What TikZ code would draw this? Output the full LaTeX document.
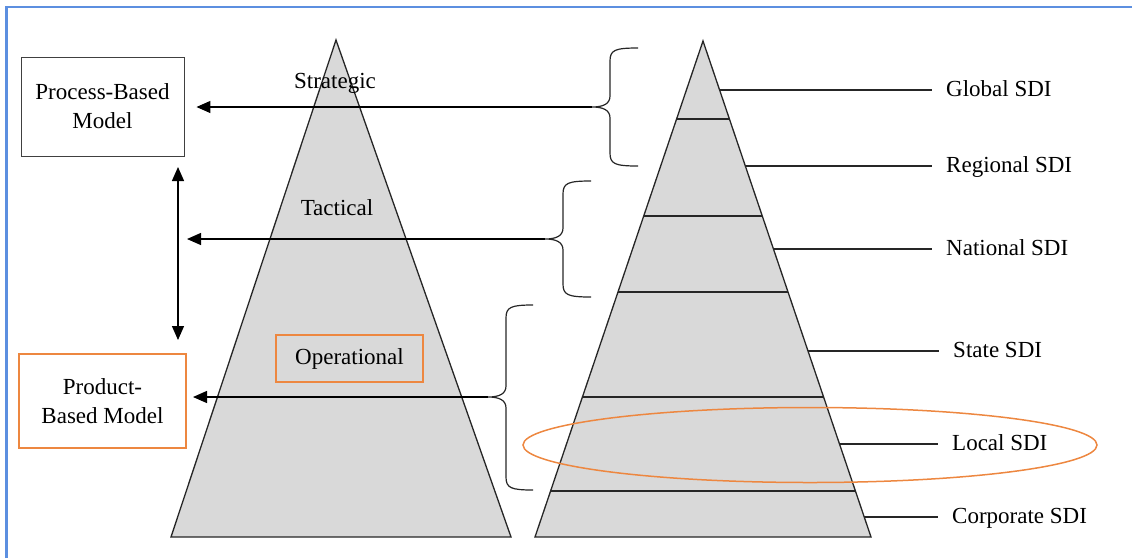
\documentclass[tikz,border=0pt]{standalone}
\usepackage{fontspec}
\setmainfont{Liberation Serif}
\usepackage{tikz}
\usetikzlibrary{positioning,arrows.meta,calc}
\definecolor{pg}{rgb}{0.85,0.85,0.85}
\definecolor{og}{rgb}{0.93,0.53,0.25}
\definecolor{fr}{rgb}{0.36,0.56,0.88}

\begin{document}
\begin{tikzpicture}[
  x=1pt, y=-1pt,
  every node/.style = {font=\fontsize{23}{29}\selectfont},
  %% box styles
  mbox/.style  = {rectangle, draw=black!75, line width=0.9pt,
                  align=center, inner sep=0pt},
  pbox/.style  = {mbox, minimum width=163pt, minimum height=99pt},
  obox/.style  = {mbox, draw=og, line width=2pt,
                  minimum width=167pt, minimum height=94pt},
  opbox/.style = {obox, minimum width=147pt, minimum height=47pt},
  %% text nodes
  lvl/.style   = {inner sep=0pt, anchor=base},
  lbl/.style   = {inner sep=0pt, anchor=base west},
  %% shapes
  pyr/.style   = {fill=pg, draw=black!85, line width=1.3pt},
  tier/.style  = {draw=black!85, line width=1.3pt},
  brc/.style   = {draw=black!85, line width=1.2pt},
  %% arrows
  arr/.style   = {-{Triangle[length=14pt,width=12pt]}, line width=1.3pt},
  dbl/.style   = {{Triangle[length=14pt,width=12pt]}-{Triangle[length=14pt,width=12pt]},
                  line width=1.3pt}
]

\useasboundingbox (0,0) rectangle (1132,558);

%% ---- Frame ----
\draw[fr, line width=2.5pt] (6.5,558) -- (6.5,7) -- (1132,7);

%% ---- Left pyramid ----
\draw[pyr] (336,40) -- (511,537) -- (171,537) -- cycle;
\node[lvl]   (STR) at (335,88)  {Strategic};
\node[lvl]   (TAC) at (337,215) {Tactical};
\node[opbox] (OPR) at (349.5,358.5) {Operational};

%% ---- Right pyramid ----
\coordinate (RA) at (703,41);
\coordinate (RL) at (535,537);
\coordinate (RR) at (871,537);
\draw[pyr] (RA) -- (RR) -- (RL) -- cycle;
\foreach \t in {0.1573,0.3528,0.5060,0.7177,0.9073}
  \draw[tier] ($(RA)!\t!(RL)$) -- ($(RA)!\t!(RR)$);

%% ---- SDI labels ----
\node[lbl] (GLB) at (946,96)  {Global SDI};
\node[lbl] (REG) at (946,172) {Regional SDI};
\node[lbl] (NAT) at (946,255) {National SDI};
\node[lbl] (STA) at (953,357) {State SDI};
\node[lbl] (LOC) at (952,450) {Local SDI};
\node[lbl] (COR) at (952,523) {Corporate SDI};

\foreach \t/\n in {0.0988/GLB,0.2520/REG,0.4194/NAT,
                   0.6250/STA,0.8125/LOC,0.9597/COR}
  \draw[tier, line width=1.1pt, shorten >=14pt]
    ($(RA)!\t!(RR)$) coordinate (e) -- (e -| \n.west);

\draw[og, line width=1.5pt] (810,445) ellipse [x radius=287pt, y radius=37.5pt];

%% ---- Model boxes ----
\node[pbox] (PBM) at (102.5,106.5) {Process-Based\\Model};
\node[obox, below=197pt of PBM] (PDM) {Product-\\Based Model};

%% ---- Braces (hook x / spine x / tip x / top / tip y / bottom) ----
\foreach \hx/\vx/\tx/\ya/\ym/\yb/\s in {638/610/592/48/107/166/S1,
                                      591/563/545/181/239/297/S2,
                                      533/506/488/305/397/490/S3}{
  \draw[brc] (\hx,\ya) .. controls (\vx+5,\ya) and (\vx,\ya+2) .. (\vx,\ya+13)
    -- (\vx,\ym-11) .. controls (\vx,\ym-3) and (\vx-7,\ym) .. (\tx,\ym)
    .. controls (\vx-7,\ym) and (\vx,\ym+3) .. (\vx,\ym+11)
    -- (\vx,\yb-13) .. controls (\vx,\yb-2) and (\vx+5,\yb) .. (\hx,\yb);
  \coordinate (\s) at (\tx,\ym);
}

%% ---- Arrows ----
\coordinate (T2) at (187,239);
\draw[arr, shorten >=12pt] (S1) -- (S1 -| PBM.east);
\draw[arr] (S2) -- (T2);
\draw[arr, shorten >=6pt]  (S3) -- (S3 -| PDM.east);

\coordinate (VT) at (178,167);
\coordinate (VB) at (178,340);
\draw[dbl] (VT) -- (VB);

\end{tikzpicture}
\end{document}
